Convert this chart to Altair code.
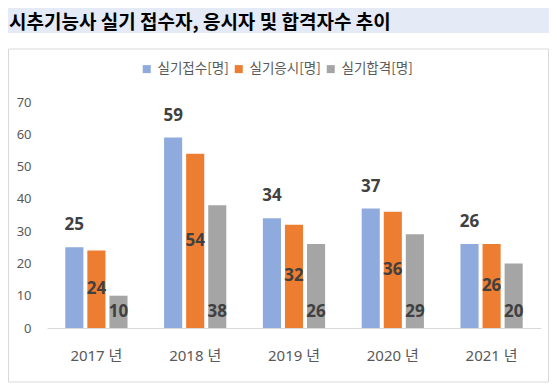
import altair as alt
import pandas as pd

years = ["2017 년", "2018 년", "2019 년", "2020 년", "2021 년"]
series = ["실기접수[명]", "실기응시[명]", "실기합격[명]"]
applied = [25, 59, 34, 37, 26]
took = [24, 54, 32, 36, 26]
passed = [10, 38, 26, 29, 20]
y_ticks = [0, 10, 20, 30, 40, 50, 60, 70]
colors = ["#8faadc", "#ed7d31", "#a5a5a5"]
title_text = "시추기능사 실기 접수자, 응시자 및 합격자수 추이"

rows = []
for vals, s in zip([applied, took, passed], series):
    for y, v in zip(years, vals):
        rows.append({"year": y, "series": s, "value": v, "half": v / 2})
df = pd.DataFrame(rows)

FONT = "Noto Sans, Noto Sans CJK KR"
one = pd.DataFrame({"a": [0]})

x_axis = alt.Axis(labelAngle=0, labelFontSize=15, labelColor="#595959",
                  labelFont=FONT, labelPadding=20, ticks=False,
                  domainColor="#d9d9d9", domainWidth=1)
y_axis = alt.Axis(values=y_ticks, grid=False, domain=False, ticks=False,
                  labelFontSize=13, labelColor="#595959", labelFont=FONT,
                  labelPadding=16, labelOverlap=False)
x_scale = alt.Scale(paddingInner=0.37, paddingOuter=0.185)
y_scale = alt.Scale(domain=[0, 70])
x_enc = alt.X("year:N", sort=years, title=None, scale=x_scale, axis=x_axis)
xo_enc = alt.XOffset("series:N", sort=series,
                     scale=alt.Scale(paddingInner=0.18, paddingOuter=0))

band = alt.Chart(one).mark_rect(color="#e4eaf6").encode(
    x=alt.value(-39), x2=alt.value(502), y=alt.value(-94), y2=alt.value(-69))
frame = alt.Chart(one).mark_rect(fill=None, stroke="#d9d9d9", strokeWidth=1).encode(
    x=alt.value(-38.5), x2=alt.value(501.5), y=alt.value(-53), y2=alt.value(280))
title = alt.Chart(one).mark_text(align="left", baseline="middle", fontSize=19,
                                 fontWeight="bold", font="Noto Sans CJK KR",
                                 color="#000000").encode(
    x=alt.value(-38), y=alt.value(-79), text=alt.value(title_text))

bars = alt.Chart(df).mark_bar().encode(
    x=x_enc,
    xOffset=xo_enc,
    y=alt.Y("value:Q", scale=y_scale, title=None, axis=y_axis),
    color=alt.Color("series:N", sort=series,
                    scale=alt.Scale(domain=series, range=colors),
                    legend=alt.Legend(title=None, orient="none", legendX=93, legendY=-40,
                                      direction="horizontal", symbolType="square",
                                      symbolSize=64, symbolStrokeWidth=0,
                                      labelFontSize=13.5, labelColor="#595959",
                                      labelFont="Noto Sans CJK KR", labelOffset=4,
                                      columnPadding=3)),
)

lbl_style = dict(fontSize=17, fontWeight="bold", font="Noto Sans", color="#404040",
                 baseline="middle")

lbl_top = alt.Chart(df).transform_filter(alt.datum.series == series[0]).mark_text(
    dy=-22, **lbl_style).encode(
    x=x_enc, xOffset=xo_enc,
    y=alt.Y("value:Q", scale=y_scale, title=None, axis=y_axis), text="value:Q")
lbl_mid = alt.Chart(df).transform_filter(alt.datum.series == series[1]).mark_text(
    **lbl_style).encode(
    x=x_enc, xOffset=xo_enc,
    y=alt.Y("half:Q", scale=y_scale, title=None, axis=y_axis), text="value:Q")
lbl_base = alt.Chart(df).transform_filter(alt.datum.series == series[2]).mark_text(
    dy=-16, **lbl_style).encode(
    x=x_enc, xOffset=xo_enc,
    y=alt.datum(0, type="quantitative", scale=y_scale, title=None, axis=y_axis),
    text="value:Q")

chart = alt.layer(band, frame, bars, lbl_top, lbl_mid, lbl_base, title).properties(
    width=494, height=226,
    autosize=alt.AutoSizeParams(type="none"),
    padding={"left": 39, "top": 94, "right": 8, "bottom": 55},
).configure_view(stroke=None)

chart.save("out.html", embed_options={"renderer": "svg", "actions": False})
